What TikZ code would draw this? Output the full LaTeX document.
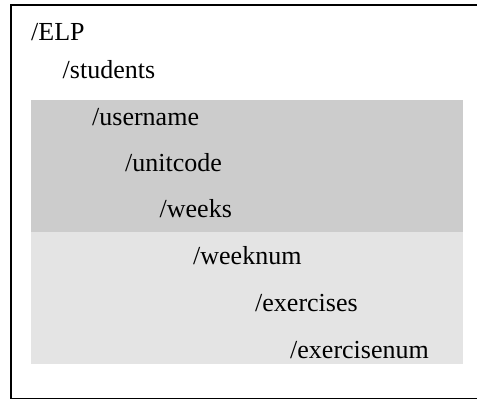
\documentclass[tikz,border=0pt]{standalone}
\usepackage{fontspec}
\setmainfont{Liberation Serif}
\begin{document}
\begin{tikzpicture}[x=1bp,y=-1bp,
  lbl/.style={anchor=base west,inner sep=0pt,font=\fontsize{26bp}{30bp}\selectfont,text=black},
  band/.style={draw=none}]
\useasboundingbox (0,0) rectangle (477,400);
\clip (0,0) rectangle (477,400);
\fill[white] (0,0) rectangle (477,400);
\fill[band,fill={rgb,255:red,204;green,204;blue,204}] (31,100) rectangle (463,232);
\fill[band,fill={rgb,255:red,228;green,228;blue,228}] (31,232) rectangle (463,364);
\draw[line width=1.6bp] (485,4.8) -- (10.8,4.8) -- (10.8,398.4) -- (485,398.4);
\node[lbl] (elp) at (31,40.5) {/ELP};
\node[lbl] (students) at (62.5,78) {/students};
\node[lbl] (username) at (92,125) {/username};
\node[lbl] (unitcode) at (125,171.5) {/unitcode};
\node[lbl] (weeks) at (159.5,217) {/weeks};
\node[lbl] (weeknum) at (193,264.5) {/weeknum};
\node[lbl] (exercises) at (255,311) {/exercises};
\node[lbl] (exercisenum) at (290,358) {/exercisenum};
\end{tikzpicture}
\end{document}
